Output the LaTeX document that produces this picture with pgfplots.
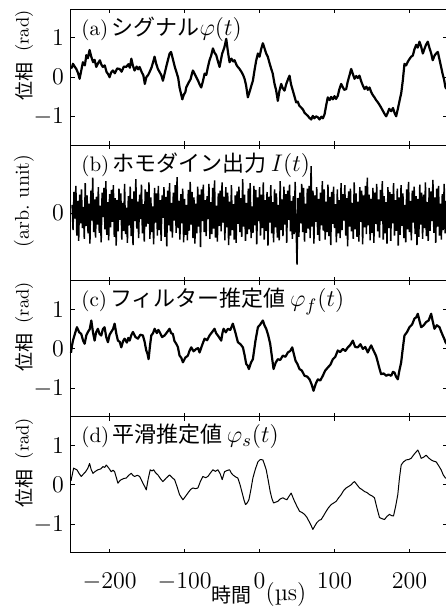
\documentclass[border=0pt]{standalone}
\usepackage{fontspec}
\usepackage{pgfplots}
\pgfplotsset{compat=1.18}
\usepackage{pgfplotstable}
\newfontfamily\cjk{Noto Sans CJK JP}
\newcommand\ttl[3]{{\fontsize{10.5}{12}\selectfont(#1)}\,{\fontsize{11}{13}\selectfont\cjk #2}{\fontsize{12.5}{14}\selectfont#3}}
\newcommand\radnodes{%
  \node[rotate=90, inner sep=0pt, font=\fontsize{9}{10}\selectfont] at (rel axis cs:-0.125,0.84) {(rad)};
  \node[rotate=90, inner sep=0pt, font=\fontsize{9.5}{11}\selectfont\cjk] at (rel axis cs:-0.125,0.47) {位相};}

\pgfplotstableread[row sep=\\]{
y\\
12\\ -25\\ 31\\ -8\\ 40\\ -33\\ 18\\ -41\\ 27\\ -15\\ 35\\ -22\\ 9\\ -38\\ 44\\ -19\\ 26\\ -30\\ 14\\ -45\\ 33\\ -11\\ 52\\ -28\\ 20\\
-36\\ 24\\ -17\\ 38\\ -29\\ 11\\ -43\\ 30\\ -6\\ 37\\ -24\\ 47\\ -32\\ 16\\ -40\\ 28\\ -21\\ 34\\ -13\\ 41\\ -35\\ 22\\ -48\\ 19\\ -27\\
36\\ -10\\ 29\\ -39\\ 15\\ -26\\ 43\\ -31\\ 8\\ -44\\ 25\\ -18\\ 39\\ -34\\ 21\\ -47\\ 32\\ -12\\ 50\\ -23\\ 17\\ -37\\ 27\\ -9\\ 42\\
-30\\ 13\\ -42\\ 35\\ -20\\ 31\\ -16\\ 45\\ -38\\ 23\\ -28\\ 10\\ -46\\ 37\\ -14\\ 29\\ -33\\ 40\\ -25\\ 19\\ -41\\ 26\\ -7\\ 38\\ -35\\
24\\ -49\\ 33\\ -18\\ 44\\ -27\\ 15\\ -36\\ 30\\ -11\\ 41\\ -29\\ 53\\ -22\\ 18\\ -39\\ 28\\ -15\\ 36\\ -43\\ 21\\ -32\\ 12\\ -40\\ 34\\
-26\\ 46\\ -17\\ 31\\ -37\\ 23\\ -45\\ 14\\ -30\\ 39\\ -20\\ 27\\ -50\\ 35\\ -12\\ 42\\ -28\\ 19\\ -34\\ 25\\ -9\\ 43\\ -38\\ 16\\ -31\\
37\\ -23\\ 48\\ -36\\ 11\\ -42\\ 29\\ -19\\ 33\\ -27\\ 45\\ -14\\ 24\\ -40\\ 38\\ -21\\ 30\\ -47\\ 17\\ -33\\ 41\\ -25\\ 13\\ -39\\ 26\\
-44\\ 32\\ -16\\ 39\\ -28\\ 22\\ -35\\ 50\\ -20\\ 27\\ -41\\ 15\\ -31\\ 36\\ -24\\ 44\\ -37\\ 10\\ -29\\ 40\\ -18\\ 34\\ -46\\ 23\\ -12\\
38\\ -33\\ 27\\ -22\\ 45\\ -39\\ 19\\ -26\\ 31\\ -48\\ 24\\ -14\\ 41\\ -30\\ 16\\ -43\\ 35\\ -21\\ 29\\ -36\\ 12\\ -40\\ 47\\ -25\\ 20\\
-34\\ 39\\ -17\\ 28\\ -44\\ 33\\ -10\\ 42\\ -27\\ 18\\ -38\\ 25\\ -31\\ 46\\ -19\\ -76\\ 22\\ -35\\ 30\\ -15\\ 43\\ -28\\ 37\\ -42\\ 14\\
-29\\ 36\\ -23\\ 40\\ -37\\ 69\\ -20\\ 33\\ -45\\ 26\\ -13\\ 38\\ -32\\ 21\\ -41\\ 30\\ -18\\ 47\\ -26\\ 35\\ -39\\ 17\\ -28\\ 42\\ -34\\
24\\ -47\\ 31\\ -16\\ 39\\ -22\\ 13\\ -43\\ 35\\ -30\\ 19\\ -37\\ 44\\ -25\\ 28\\ -11\\ 41\\ -33\\ 22\\ -49\\ 32\\ -20\\ 36\\ -27\\ 15\\
-38\\ 45\\ -24\\ 29\\ -35\\ 17\\ -42\\ 38\\ -13\\ 33\\ -46\\ 26\\ -21\\ 40\\ -31\\ 52\\ -18\\ 27\\ -40\\ 21\\ -29\\ 37\\ -44\\ 30\\ -16\\
43\\ -27\\ 20\\ -36\\ 34\\ -12\\ 47\\ -39\\ 25\\ -30\\ 16\\ -45\\ 38\\ -22\\ 31\\ -41\\ 28\\ -15\\ 44\\ -33\\ 19\\ -26\\ 36\\ -48\\ 23\\
-32\\ 41\\ -19\\ 29\\ -37\\ 12\\ -43\\ 35\\ -24\\ 46\\ -28\\ 18\\ -40\\ 33\\ -14\\ 39\\ -31\\ 25\\ -47\\ 21\\ -35\\ 42\\ -17\\ 30\\ -38\\
27\\ -22\\ 45\\ -34\\ 16\\ -41\\ 37\\ -26\\ 32\\ -12\\ 49\\ -29\\ 23\\ -44\\ 36\\ -20\\ 40\\ -33\\ 14\\ -39\\ 28\\ -25\\ 43\\ -30\\ 18\\
}\homodyne

\pgfplotsset{
  panel/.style={
    scale only axis, width=188pt, height=67.93pt,
    xmin=-251.5, xmax=250, ymin=-1.72, ymax=1.72,
    xtick={-200,-100,0,100,200}, ytick={-1,0,1},
    xticklabels={},
    major tick length=2pt,
    tick style={black, line width=0.5pt},
    axis line style={line width=0.5pt},
    tick label style={font=\fontsize{11.5}{13}\selectfont},
    clip=false,
  },
}
\tikzset{ptitle/.style={anchor=base west, inner sep=0pt, xshift=5pt, yshift=-13pt}}

\begin{document}
\begin{tikzpicture}
\useasboundingbox (-35.5pt,-29.15pt) rectangle (187.5pt,276.37pt);

% (a)
\begin{axis}[panel, at={(0pt,203.79pt)}, anchor=south west]
\addplot[black, line width=1.1pt, line join=round] coordinates {
(-251.5,0.22) (-250,0.26) (-248.9,0.34) (-247,0.28) (-244.4,0.21) (-242,0.10) (-240,-0.04) (-238,0.15)
(-235.6,0.38) (-233,0.30) (-231,0.56) (-229,0.48) (-226.7,0.69) (-224.5,0.52) (-222,0.38) (-220,0.44)
(-217.8,0.26) (-215.5,0.35) (-213,0.43) (-211,0.32) (-209,0.26) (-206.5,0.30) (-204,0.13) (-202,0.08)
(-200,0.0) (-198,0.12) (-195.6,0.17) (-193,0.10) (-190,0.22) (-186.7,0.21) (-184,0.14) (-181,0.27)
(-177.8,0.26) (-175,0.33) (-173,0.24) (-171,0.47) (-169,0.30) (-166.7,0.17) (-164,0.27) (-162,0.20)
(-160,0.26) (-157,0.12) (-155,0.05) (-153,-0.17) (-151,0.0) (-148.5,0.06) (-146.7,0.13) (-144,0.25)
(-142,0.38) (-140,0.52) (-138,0.35) (-135.6,0.21) (-133,0.12) (-131,0.05) (-128.9,-0.09) (-126.5,0.10)
(-124,0.30) (-122,0.45) (-120,0.60) (-118,0.64) (-115.5,0.45) (-113,0.26) (-111,0.14) (-108.5,-0.02)
(-106.7,-0.26) (-105,-0.40) (-103,-0.56) (-101,-0.44) (-99,-0.38) (-97.8,-0.26) (-95,-0.15) (-92,-0.05)
(-90,0.10) (-88.9,0.17) (-86.5,0.08) (-84.4,0.0) (-82,-0.09) (-80,-0.18) (-77.8,-0.26) (-75.5,-0.10)
(-73.3,0.09) (-71,0.06) (-69,0.25) (-66.7,0.43) (-64.5,0.55) (-62.2,0.73) (-60,0.62) (-57.8,0.56)
(-55.5,0.40) (-53.3,0.26) (-51.5,0.44) (-49.8,0.60) (-47,0.75) (-44.4,0.97) (-42,0.62) (-40,0.38)
(-37.5,0.47) (-35,0.40) (-33.3,0.43) (-30.5,0.30) (-28.5,0.25) (-26.7,0.21) (-24,0.13) (-22,0.06)
(-20,-0.04) (-18,-0.20) (-15.6,-0.51) (-13,-0.35) (-11,-0.22) (-8.9,-0.09) (-6.5,0.20) (-4.5,0.42)
(-2.2,0.60) (0,0.52) (2,0.70) (4.4,0.86) (6.5,0.74) (8.9,0.60) (11,0.52) (13,0.38)
(15.6,0.21) (17.5,0.10) (20,-0.17) (22,-0.32) (24.4,-0.60) (26.5,-0.35) (28.9,-0.17) (31,-0.28)
(33.3,-0.34) (35.5,-0.18) (38,-0.05) (40,0.04) (42,-0.18) (44.4,-0.34) (46.5,-0.48) (48.9,-0.64)
(51,-0.62) (53,-0.72) (55.6,-0.77) (58,-0.82) (60,-0.90) (62.2,-0.94) (64.5,-0.98) (66.5,-1.03)
(68.9,-1.07) (71,-0.98) (73,-1.04) (75.6,-0.99) (78,-1.02) (80,-1.07) (82.5,-1.00) (84.5,-1.04)
(86.7,-0.94) (89,-0.70) (91,-0.51) (93.5,-0.58) (95.5,-0.50) (97.8,-0.56) (100,-0.48) (102,-0.55)
(104.4,-0.47) (106.5,-0.30) (108.9,-0.17) (111,-0.25) (113,-0.32) (115.6,-0.30) (117.5,-0.12) (120,0.05)
(122.2,0.21) (124.5,0.08) (126.7,-0.04) (129,0.03) (131,-0.02) (133.3,0.04) (135.5,-0.10) (138,-0.22)
(140,-0.30) (142.5,-0.24) (144.5,-0.32) (146.7,-0.26) (149,-0.38) (151,-0.45) (153.3,-0.51) (155.5,-0.58)
(158,-0.64) (160,-0.70) (162.2,-0.77) (164.5,-0.85) (166.5,-0.92) (168.9,-0.99) (171,-0.90) (173,-0.80)
(175.6,-0.86) (178,-0.78) (180,-0.90) (182.2,-0.99) (184.5,-0.80) (186.7,-0.60) (189,-0.40) (191,-0.10)
(193.3,0.34) (195.5,0.30) (198,0.40) (200,0.46) (202.2,0.52) (204.5,0.55) (206.5,0.70) (208.9,0.82)
(211,0.75) (213.3,0.90) (215.5,0.78) (217.8,0.60) (220,0.72) (222,0.82) (224.4,0.90) (226.5,0.75)
(229,0.60) (231,0.43) (233.5,0.55) (235.5,0.60) (237.8,0.64) (240,0.45) (242.2,0.26) (244,0.10)
(246,-0.05) (248,-0.26) (250,-0.30)
};
\node[ptitle] at (rel axis cs:0,1) {\ttl{a}{シグナル}{$\varphi(t)$}};
\radnodes
\end{axis}

% (b)
\begin{axis}[panel, at={(0pt,135.86pt)}, anchor=south west,
  ymin=-100, ymax=100, ytick={0}]
\addplot[black, line width=0.75pt] table[x expr={\coordindex*1.25-250}, y index=0] {\homodyne};
\node[ptitle] at (rel axis cs:0,1) {\ttl{b}{ホモダイン出力}{\,$I(t)$}};
\node[rotate=90, inner sep=0pt, font=\fontsize{10}{12}\selectfont] at (rel axis cs:-0.125,0.59) {(arb.\ unit)};
\end{axis}

% (c)
\begin{axis}[panel, at={(0pt,67.93pt)}, anchor=south west]
\addplot[black, line width=1.1pt, line join=round] coordinates {
(-251.5,-0.10) (-250.5,0.05) (-248.9,0.21) (-246,0.40) (-243.6,0.55) (-240.5,0.42) (-237.8,0.38) (-235.5,0.22)
(-233.3,0.13) (-231,0.35) (-228.9,0.43) (-226.5,0.50) (-224.4,0.72) (-222,0.40) (-220,0.21) (-218,0.42)
(-215.6,0.51) (-213.5,0.38) (-211.1,0.34) (-209,0.50) (-206.7,0.55) (-204.5,0.30) (-202.2,0.17) (-200,0.36)
(-197.8,0.43) (-195.5,0.50) (-193.3,0.64) (-191,0.38) (-188.9,0.21) (-186.5,0.18) (-184.4,0.04) (-182,0.20)
(-180,0.26) (-177,0.16) (-175,0.28) (-173.3,0.21) (-171,0.35) (-168.9,0.43) (-165.5,0.30) (-162.2,0.26)
(-159,0.36) (-155.6,0.34) (-153.5,0.20) (-151.1,-0.04) (-149.5,-0.12) (-148,-0.26) (-146,0.10) (-144.4,0.34)
(-142,0.40) (-140,0.51) (-137,0.40) (-135,0.48) (-133.3,0.43) (-130,0.30) (-126.7,0.34) (-123.5,0.42)
(-120,0.51) (-118,0.40) (-115.6,0.38) (-113.5,0.20) (-111.1,0.13) (-109,0.05) (-106.7,-0.17) (-104.5,-0.22)
(-102.2,-0.34) (-99,-0.22) (-95.6,-0.17) (-93.5,-0.05) (-91.1,0.04) (-88,-0.06) (-84.4,0.0) (-82,0.02)
(-80,-0.09) (-76.5,0.10) (-73.3,0.26) (-70,0.22) (-66.7,0.34) (-63.5,0.42) (-60,0.51) (-58,0.40)
(-55.6,0.34) (-53.5,0.28) (-51.1,0.21) (-49.5,0.40) (-48,0.51) (-45,0.42) (-42.2,0.51) (-39,0.48)
(-35.6,0.64) (-32,0.40) (-28.9,0.17) (-25.5,0.12) (-22.2,0.04) (-20,-0.15) (-17.8,-0.38) (-16,-0.42)
(-14.2,-0.51) (-11.5,-0.35) (-8.9,-0.26) (-5.5,0.20) (-2.2,0.55) (1,0.62) (4.4,0.72) (6.5,0.60)
(8.9,0.51) (11.5,0.35) (14.2,0.13) (16.5,-0.20) (18.7,-0.51) (21.5,-0.35) (24.4,-0.26) (27.5,-0.28)
(31.1,-0.17) (34.5,-0.20) (37.8,-0.09) (41,-0.05) (43.6,0.04) (46,-0.15) (48,-0.30) (50.5,-0.38)
(53.3,-0.51) (56.5,-0.55) (60,-0.68) (63.5,-0.70) (66.7,-0.77) (69.5,-0.90) (72,-1.06) (75,-0.88)
(77.8,-0.77) (81,-0.80) (84.4,-0.68) (87.5,-0.55) (91.1,-0.47) (94.5,-0.40) (97.8,-0.26) (101,-0.20)
(104.4,-0.04) (107.5,-0.08) (111.1,0.0) (114.5,-0.05) (117.8,0.04) (121,0.10) (124.4,0.21) (127.5,0.05)
(131.1,0.04) (134.5,0.12) (137.8,0.0) (141,0.05) (144.4,-0.09) (146.5,0.00) (148.9,0.09) (151,0.0)
(153.3,-0.09) (155.5,-0.18) (157.8,-0.34) (160,-0.50) (162.2,-0.64) (165.5,-0.62) (168.9,-0.68) (172,-0.65)
(175.6,-0.68) (178,-0.58) (180,-0.60) (182,-0.70) (184.4,-0.77) (186.5,-0.55) (188.9,-0.34) (191,0.0)
(193.3,0.34) (196.5,0.42) (200,0.55) (203.5,0.62) (206.7,0.77) (209,0.80) (211.1,0.89) (213.5,0.70)
(215.6,0.55) (219,0.60) (222.2,0.68) (225.5,0.72) (228.9,0.89) (231,0.70) (233.3,0.51) (236.5,0.60)
(240,0.55) (242,0.45) (244.4,0.34) (246.5,0.25) (248,0.17) (250,0.12)
};
\node[ptitle] at (rel axis cs:0,1) {\ttl{c}{フィルター推定値}{\,$\varphi_f(t)$}};
\radnodes
\end{axis}

% (d)
\begin{axis}[panel, at={(0pt,0pt)}, anchor=south west,
  xticklabels={$-200$,$-100$,$0$,$100$,$200$},
  xticklabel style={font=\fontsize{12.5}{14}\selectfont, yshift=-6.5pt},
  xlabel={{\fontsize{10}{12}\selectfont\cjk 時間}\hspace{7pt}\raisebox{1.2pt}{\fontsize{12}{14}\selectfont(\textmu s)}},
  xlabel style={at={(axis description cs:0.5,0)}, anchor=base, yshift=-25pt}]
\addplot[black, line width=0.5pt, line join=round] coordinates {
(-251.5,0.10) (-248,0.42) (-243.6,0.38) (-240.5,0.28) (-237.8,0.21) (-235,0.27) (-232,0.33) (-229,0.42)
(-226.7,0.54) (-224.5,0.38) (-222.2,0.29) (-219,0.34) (-215.6,0.38) (-212,0.40) (-208.9,0.46) (-206.5,0.44)
(-204.4,0.50) (-201,0.42) (-197.8,0.33) (-195.5,0.37) (-193.3,0.33) (-191,0.18) (-188.9,0.04) (-186.5,0.10)
(-184.4,0.13) (-181,0.16) (-177.8,0.17) (-174.5,0.24) (-171.1,0.29) (-169,0.24) (-166.7,0.21) (-163,0.24)
(-160,0.21) (-157.5,0.12) (-155.6,0.04) (-153,-0.05) (-151.1,-0.13) (-148.5,0.15) (-145.8,0.38) (-143.5,0.35)
(-141.3,0.38) (-138.5,0.30) (-135.6,0.25) (-132,0.15) (-128.9,0.08) (-124.5,0.17) (-120,0.25) (-116.5,0.18)
(-113.3,0.13) (-110,-0.05) (-106.7,-0.25) (-102.2,-0.38) (-99,-0.30) (-95.6,-0.21) (-92,-0.12) (-88.9,-0.08)
(-85.5,-0.10) (-82.2,-0.08) (-79,0.08) (-75.6,0.21) (-72,0.18) (-68.9,0.21) (-65.5,0.30) (-62.2,0.38)
(-59,0.34) (-55.6,0.38) (-52.5,0.28) (-49.8,0.13) (-46.7,0.33) (-43.5,0.36) (-40,0.38) (-37.8,0.30)
(-35.6,0.25) (-32,0.20) (-28.9,0.17) (-26,0.00) (-23.1,-0.21) (-20.8,-0.38) (-18.7,-0.50) (-16.5,-0.46)
(-14.2,-0.38) (-11.5,-0.12) (-8.9,0.17) (-5.5,0.40) (-2.2,0.58) (1,0.64) (4.4,0.63) (6.5,0.52)
(8.9,0.38) (11.5,0.12) (14.2,-0.17) (16.5,-0.35) (18.7,-0.46) (21.5,-0.44) (24.4,-0.42) (27.5,-0.36)
(31.1,-0.33) (34,-0.36) (36.4,-0.38) (39,-0.30) (42.2,-0.21) (44.5,-0.32) (46.7,-0.42) (50,-0.55)
(53.3,-0.67) (56.5,-0.70) (60,-0.75) (63,-0.82) (65.8,-0.92) (68.5,-1.02) (71.1,-1.13) (73.8,-1.04)
(76.4,-0.96) (79.5,-0.90) (82.2,-0.88) (85.5,-0.78) (88.9,-0.67) (92,-0.58) (95.6,-0.50) (99,-0.46)
(102.2,-0.42) (105.5,-0.33) (108.9,-0.25) (112,-0.15) (115.6,-0.08) (119,-0.04) (122.2,0.00) (124.5,0.05)
(126.7,0.08) (130,0.00) (133.3,-0.08) (136.5,-0.12) (140,-0.17) (143.5,-0.20) (146.7,-0.25) (150,-0.28)
(153.3,-0.33) (156.5,-0.58) (160,-0.83) (163.5,-0.86) (166.7,-0.88) (170,-0.80) (173.3,-0.75) (176,-0.78)
(178.7,-0.79) (181.5,-0.55) (184.4,-0.25) (186.5,0.15) (188.9,0.50) (192,0.58) (195.6,0.63) (199,0.64)
(202.2,0.67) (206.5,0.78) (211.1,0.88) (213.5,0.78) (215.6,0.67) (219,0.70) (222.2,0.75) (225.5,0.68)
(228.9,0.63) (232,0.60) (235.6,0.58) (239,0.48) (242.2,0.38) (245,0.25) (248,0.17) (250,0.16)
};
\node[ptitle] at (rel axis cs:0,1) {\ttl{d}{平滑推定値}{\,$\varphi_s(t)$}};
\radnodes
\end{axis}
\end{tikzpicture}
\end{document}
